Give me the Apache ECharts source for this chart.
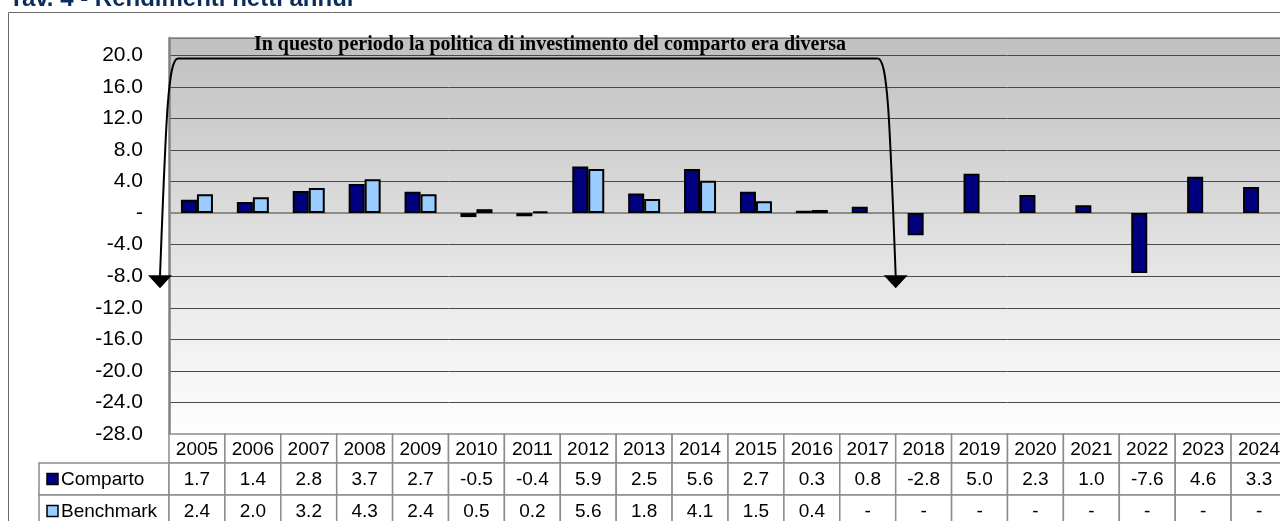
<!DOCTYPE html>
<html>
<head>
<meta charset="utf-8">
<script src="https://cdn.jsdelivr.net/npm/echarts@6/dist/echarts.min.js"></script>
<style>
  html, body { margin: 0; padding: 0; background: #fff; overflow: hidden; }
  #chart { width: 1300px; height: 521px; }
</style>
</head>
<body>
<div id="chart"></div>
<script>
// data
const years = ['2005', '2006', '2007', '2008', '2009', '2010', '2011', '2012', '2013', '2014',
  '2015', '2016', '2017', '2018', '2019', '2020', '2021', '2022', '2023', '2024']
const comparto = [1.7, 1.4, 2.8, 3.7, 2.7, -0.5, -0.4, 5.9, 2.5, 5.6, 2.7, 0.3, 0.8, -2.8, 5.0, 2.3, 1.0, -7.6, 4.6, 3.3]
const benchmark = [2.4, 2.0, 3.2, 4.3, 2.4, 0.5, 0.2, 5.6, 1.8, 4.1, 1.5, 0.4, null, null, null, null, null, null, null, null]
const seriesNames = ['Comparto', 'Benchmark']
const seriesColors = ['#000080', '#99CCFF']
const titleText = 'Tav. 4 - Rendimenti netti annui'
const noteText = 'In questo periodo la politica di investimento del comparto era diversa'
const noteLastYear = '2017'

const FONT = 'Liberation Sans, Arial, sans-serif'
const GRID_LINE = '#8c8c8c'

const chart = echarts.init(document.getElementById('chart'))

const fmtValue = v => (v === null || v === undefined) ? '-' : v.toFixed(1)

chart.setOption({
  animation: false,
  backgroundColor: '#fff',
  grid: {
    left: 169,
    top: 38,
    width: 1118,
    height: 396,
    show: true,
    borderWidth: 0,
    backgroundColor: {
      type: 'linear', x: 0, y: 0, x2: 0, y2: 1,
      colorStops: [{ offset: 0, color: '#c0c0c0' }, { offset: 1, color: '#ffffff' }]
    }
  },
  xAxis: {
    type: 'category',
    data: years,
    axisLine: { show: true, lineStyle: { color: GRID_LINE, width: 2 } },
    axisTick: { show: false },
    axisLabel: { show: false }
  },
  yAxis: {
    type: 'value',
    min: -28,
    max: 22.2,
    interval: 4,
    axisLine: { show: true, lineStyle: { color: '#808080', width: 2.5 } },
    axisTick: { show: false },
    axisLabel: {
      showMaxLabel: false,
      margin: 26,
      fontSize: 21,
      fontFamily: FONT,
      color: '#000',
      formatter: v => Math.abs(v) < 1e-9 ? '-' : v.toFixed(1)
    },
    splitLine: { show: true, lineStyle: { color: '#4a4a4a', width: 1 } }
  },
  series: [
    {
      name: seriesNames[0],
      type: 'bar',
      data: comparto,
      barWidth: 16,
      barGap: '0%',
      itemStyle: { color: seriesColors[0], borderColor: '#000', borderWidth: 2 }
    },
    {
      name: seriesNames[1],
      type: 'bar',
      data: benchmark,
      barWidth: 16,
      barGap: '0%',
      itemStyle: { color: seriesColors[1], borderColor: '#000', borderWidth: 2 }
    }
  ]
})

// positions from the axes, used for the data table and the annotation
const px = c => chart.convertToPixel({ xAxisIndex: 0 }, c)
const py = v => chart.convertToPixel({ yAxisIndex: 0 }, v)
const band = px(years[1]) - px(years[0])
const xLeft = px(years[0]) - band / 2
const xRight = px(years[years.length - 1]) + band / 2
const yTop = py(22.2)
const yBottom = py(-28)

const rowH = [29, 32, 32]
const legendLeft = 39
const graphics = []

// outer frame
graphics.push({
  type: 'rect', z: 0, silent: true,
  shape: { x: 8.5, y: 12.5, width: 1400, height: 600 },
  style: { fill: 'none', stroke: '#6a6a6a', lineWidth: 1 }
})
// title (cut by the top edge)
graphics.push({
  type: 'text', z: 10, x: 9, y: -1,
  style: { text: titleText, font: 'bold 24px ' + FONT, fill: '#0b2d5e', verticalAlign: 'middle' }
})
// top border of plot
graphics.push({
  type: 'line', z: 10, silent: true,
  shape: { x1: xLeft, y1: yTop, x2: xRight, y2: yTop },
  style: { stroke: '#8a8a8a', lineWidth: 1.5 }
})

// data table
const cell = (x, y, w, h) => ({
  type: 'rect', z: 5, silent: true,
  shape: { x: x, y: y, width: w, height: h },
  style: { fill: '#fff', stroke: GRID_LINE, lineWidth: 1.5 }
})
const cellText = (x, y, t) => ({
  type: 'text', z: 6, silent: true, x: x, y: y,
  style: { text: t, font: '19px ' + FONT, fill: '#000', align: 'center', verticalAlign: 'middle' }
})
let rowY = yBottom
years.forEach((yr, i) => {
  graphics.push(cell(xLeft + i * band, rowY, band, rowH[0]))
  graphics.push(cellText(px(yr), rowY + rowH[0] / 2 + 1, yr))
})
rowY += rowH[0]
;[comparto, benchmark].forEach((vals, s) => {
  graphics.push(cell(legendLeft, rowY, xLeft - legendLeft, rowH[s + 1]))
  graphics.push({
    type: 'rect', z: 6, silent: true,
    shape: { x: 47, y: rowY + rowH[s + 1] / 2 - 5.5, width: 11, height: 11 },
    style: { fill: seriesColors[s], stroke: '#000', lineWidth: 1.5 }
  })
  graphics.push({
    type: 'text', z: 6, silent: true, x: 61, y: rowY + rowH[s + 1] / 2 + 1,
    style: { text: seriesNames[s], font: '19px ' + FONT, fill: '#000', verticalAlign: 'middle' }
  })
  vals.forEach((v, i) => {
    graphics.push(cell(xLeft + i * band, rowY, band, rowH[s + 1]))
    graphics.push(cellText(px(years[i]), rowY + rowH[s + 1] / 2 + 1, fmtValue(v)))
  })
  rowY += rowH[s + 1]
})

// annotation bracket: old policy period, from the y axis to the end of noteLastYear
const lx = xLeft - 9
const rx = px(noteLastYear) + band / 2
const hy = py(19.6)
const ay = py(-8)
const arrowStyle = { stroke: '#000', lineWidth: 2, fill: 'none' }
graphics.push({
  type: 'bezierCurve', z: 20, silent: true,
  shape: { x1: lx, y1: ay, cpx1: lx + 6, cpy1: hy + 60, cpx2: lx + 8, cpy2: hy, x2: lx + 18, y2: hy },
  style: arrowStyle
})
graphics.push({
  type: 'line', z: 20, silent: true,
  shape: { x1: lx + 18, y1: hy, x2: rx - 18, y2: hy },
  style: arrowStyle
})
graphics.push({
  type: 'bezierCurve', z: 20, silent: true,
  shape: { x1: rx - 18, y1: hy, cpx1: rx - 8, cpy1: hy, cpx2: rx - 6, cpy2: hy + 60, x2: rx, y2: ay },
  style: arrowStyle
})
;[lx, rx].forEach(x => {
  graphics.push({
    type: 'polygon', z: 21, silent: true,
    shape: { points: [[x - 12, ay - 1], [x + 12, ay - 1], [x, ay + 12]] },
    style: { fill: '#000' }
  })
})
graphics.push({
  type: 'text', z: 20, silent: true, x: xLeft + 381, y: py(20) - 1,
  style: { text: noteText, font: 'bold 20px Liberation Serif, Times New Roman, serif', fill: '#000', align: 'center', verticalAlign: 'bottom' }
})

chart.setOption({ graphic: graphics })
</script>
</body>
</html>
